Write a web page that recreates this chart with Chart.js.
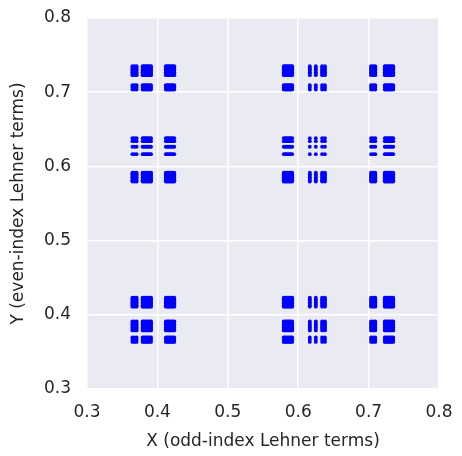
<!DOCTYPE html>
<html>
<head>
<meta charset="utf-8">
<script src="https://cdn.jsdelivr.net/npm/chart.js@4.4.1/dist/chart.umd.min.js"></script>
<style>
html,body{margin:0;padding:0;background:#fff;}
#wrap{width:462px;height:456px;}
</style>
</head>
<body>
<div id="wrap"><canvas id="c" width="462" height="456"></canvas></div>
<script>
// Values: distinct X positions (odd-index Lehner terms)
const xTerms = [0.3645, 0.3675, 0.3705,
                0.379, 0.381, 0.383, 0.385, 0.387, 0.389, 0.391,
                0.412, 0.414, 0.416, 0.418, 0.420, 0.422, 0.424,
                0.5795, 0.5815, 0.5835, 0.5855, 0.5875, 0.5895, 0.5915,
                0.6165, 0.6250, 0.634, 0.638,
                0.7035, 0.7065, 0.7095,
                0.723, 0.725, 0.727, 0.729, 0.731, 0.733, 0.735];
// Distinct Y positions (even-index Lehner terms)
const yTerms = [0.3635, 0.3665, 0.3695,
                0.379, 0.381, 0.383, 0.385, 0.387, 0.389, 0.391,
                0.411, 0.413, 0.415, 0.417, 0.419, 0.421, 0.423,
                0.5795, 0.5815, 0.5835, 0.5855, 0.5875, 0.5895, 0.5915,
                0.6165, 0.6265, 0.634, 0.638,
                0.7035, 0.7065, 0.7095,
                0.723, 0.725, 0.727, 0.729, 0.731, 0.733, 0.735];
const xTickLabels = ['0.3', '0.4', '0.5', '0.6', '0.7', '0.8'];
const yTickLabels = ['0.3', '0.4', '0.5', '0.6', '0.7', '0.8'];
const xTitle = 'X (odd-index Lehner terms)';
const yTitle = 'Y (even-index Lehner terms)';

// every (x, y) pairing of the two term sets
const points = [];
xTerms.forEach(x => yTerms.forEach(y => points.push({x: x, y: y})));

const PAD = {left: 8, right: 23, top: 18, bottom: 4};
const AREA = {left: 87, bottom: 389};

const bgPlugin = {
  id: 'plotBg',
  beforeDraw(chart) {
    const a = chart.chartArea, ctx = chart.ctx;
    ctx.save();
    ctx.fillStyle = '#EAEAF2';
    ctx.fillRect(a.left, a.top, a.right - a.left, a.bottom - a.top);
    ctx.restore();
  }
};

function noPad(s) {
  s.paddingTop = 0; s.paddingBottom = 0; s.paddingLeft = 0; s.paddingRight = 0;
}

const tickFont = {family: 'DejaVu Sans', size: 17};
new Chart(document.getElementById('c'), {
  type: 'scatter',
  data: {
    datasets: [{
      data: points,
      backgroundColor: '#0000FF',
      borderWidth: 0,
      pointRadius: 1.9,
      pointHoverRadius: 1.9
    }]
  },
  options: {
    responsive: false,
    animation: false,
    layout: {padding: PAD, autoPadding: false},
    plugins: {legend: {display: false}, tooltip: {enabled: false}},
    scales: {
      x: {
        type: 'linear', min: 0.3, max: 0.8,
        afterFit(s) { s.height = 456 - AREA.bottom - PAD.bottom; noPad(s); },
        afterBuildTicks(s) { s.ticks = xTickLabels.map(v => ({value: parseFloat(v)})); },
        ticks: {font: tickFont, color: '#262626', padding: 13,
                callback: (v) => xTickLabels.find(t => Math.abs(parseFloat(t) - v) < 1e-9) || ''},
        grid: {color: '#FFFFFF', lineWidth: 1.5, drawTicks: false},
        border: {display: false},
        title: {display: true, text: xTitle, font: tickFont, color: '#262626', padding: {top: 2, bottom: 0}}
      },
      y: {
        type: 'linear', min: 0.3, max: 0.8,
        afterFit(s) { s.width = AREA.left - PAD.left; noPad(s); },
        afterBuildTicks(s) { s.ticks = yTickLabels.map(v => ({value: parseFloat(v)})); },
        ticks: {font: tickFont, color: '#262626', padding: 16,
                callback: (v) => yTickLabels.find(t => Math.abs(parseFloat(t) - v) < 1e-9) || ''},
        grid: {color: '#FFFFFF', lineWidth: 1.5, drawTicks: false},
        border: {display: false},
        title: {display: true, text: yTitle, font: tickFont, color: '#262626', padding: {top: 0, bottom: 4}}
      }
    }
  },
  plugins: [bgPlugin]
});
</script>
</body>
</html>
